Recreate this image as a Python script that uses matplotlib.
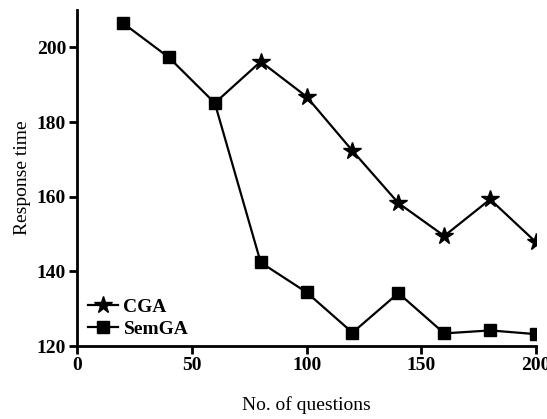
import matplotlib
matplotlib.use("Agg")
import matplotlib.pyplot as plt

# values
questions = [20, 40, 60, 80, 100, 120, 140, 160, 180, 200]
semga = [206.5, 197.3, 185.1, 142.4, 134.4, 123.6, 134.2, 123.4, 124.2, 123.2]

cga_questions = [60, 80, 100, 120, 140, 160, 180, 200]
cga = [185.1, 196.2, 186.8, 172.3, 158.3, 149.5, 159.3, 147.8]

plt.rcParams['font.family'] = ['Liberation Serif', 'DejaVu Serif']

fig = plt.figure(figsize=(5.47, 4.19), dpi=100)
ax = fig.add_axes([0.141, 0.174, 0.839, 0.802])

ax.plot(cga_questions, cga, color='black', lw=1.6, marker='*', markersize=13,
        markevery=slice(1, None), label='CGA', zorder=2)
ax.plot(questions, semga, color='black', lw=1.6, marker='s', markersize=8,
        label='SemGA', zorder=3)

ax.set_xlim(0, 200)
ax.set_ylim(120, 210)
ax.set_xticks([0, 50, 100, 150, 200])
ax.set_yticks([120, 140, 160, 180, 200])

for side in ['top', 'right']:
    ax.spines[side].set_visible(False)
for side in ['left', 'bottom']:
    ax.spines[side].set_linewidth(2)
ax.tick_params(direction='out', length=6, width=2, labelsize=14, pad=2)
for lbl in ax.get_xticklabels() + ax.get_yticklabels():
    lbl.set_fontweight('bold')

ax.set_xlabel("No. of questions", fontsize=14, labelpad=16)
ax.set_ylabel("Response time", fontsize=14, labelpad=4)

ax.legend(loc='lower left', bbox_to_anchor=(-0.005, -0.015), frameon=False,
          prop={'size': 14, 'weight': 'bold'}, handlelength=1.5,
          handletextpad=0.3, borderpad=0.2, labelspacing=0.2)

plt.savefig('out.png', dpi=100)
